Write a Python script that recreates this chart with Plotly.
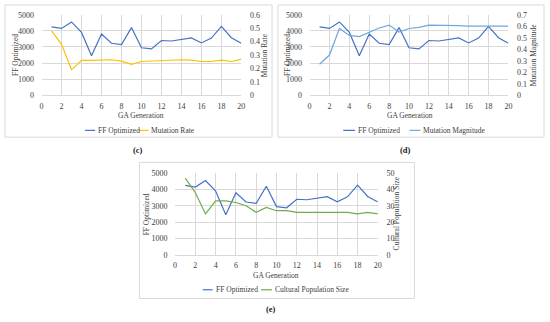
import plotly.graph_objects as go

W, H = 550, 322

generations = list(range(1, 21))
ff_optimized = [4250, 4150, 4550, 3900, 2450, 3800, 3230, 3150, 4200, 2950,
                2880, 3400, 3370, 3470, 3560, 3250, 3550, 4270, 3570, 3230]
mutation_rate = [0.48, 0.38, 0.19, 0.26, 0.26, 0.262, 0.265, 0.255, 0.23, 0.252,
                 0.255, 0.26, 0.26, 0.265, 0.262, 0.252, 0.252, 0.262, 0.252, 0.27]
mutation_magnitude = [0.27, 0.35, 0.58, 0.52, 0.51, 0.55, 0.585, 0.61, 0.55, 0.58,
                      0.59, 0.61, 0.61, 0.61, 0.605, 0.6, 0.6, 0.605, 0.6, 0.6]
cultural_pop = [47, 38, 25, 33, 33, 32, 30, 26, 29, 27,
                27, 26, 26, 26, 26, 26, 26, 25, 26, 25]

x_ticks = list(range(0, 21, 2))

FONT = "Liberation Serif"
TXT = "#404040"
GRID = "#D9D9D9"
C_FF = "#4472C4"
C_MR = "#FFC000"
C_MM = "#6FA8DC"
C_CP = "#70AD47"
FS = 7.5
TFS = 8


def px(x):
    return x / W


def py(y):
    return 1 - y / H


fig = go.Figure()

fig.add_trace(go.Scatter(x=generations, y=ff_optimized, mode="lines", line=dict(color=C_FF, width=1.2),
                         xaxis="x", yaxis="y", showlegend=False))
fig.add_trace(go.Scatter(x=generations, y=mutation_rate, mode="lines", line=dict(color=C_MR, width=1.2),
                         xaxis="x", yaxis="y2", showlegend=False))
fig.add_trace(go.Scatter(x=generations, y=ff_optimized, mode="lines", line=dict(color=C_FF, width=1.2),
                         xaxis="x2", yaxis="y3", showlegend=False))
fig.add_trace(go.Scatter(x=generations, y=mutation_magnitude, mode="lines", line=dict(color=C_MM, width=1.2),
                         xaxis="x2", yaxis="y4", showlegend=False))
fig.add_trace(go.Scatter(x=generations, y=ff_optimized, mode="lines", line=dict(color=C_FF, width=1.2),
                         xaxis="x3", yaxis="y5", showlegend=False))
fig.add_trace(go.Scatter(x=generations, y=cultural_pop, mode="lines", line=dict(color=C_CP, width=1.2),
                         xaxis="x3", yaxis="y6", showlegend=False))

tickfont = dict(family=FONT, size=TFS, color=TXT)


def xax(dom, anchor):
    return dict(domain=dom, anchor=anchor, range=[0, 20], tickvals=x_ticks, showgrid=True,
                gridcolor=GRID, gridwidth=1, zeroline=False, showline=True, linecolor=GRID,
                ticks="outside", ticklen=3, tickcolor="rgba(0,0,0,0)", tickfont=tickfont, fixedrange=True)


def yax_left(dom, anchor, rng, dt):
    return dict(domain=dom, anchor=anchor, range=rng, dtick=dt, showgrid=True, gridcolor=GRID,
                zeroline=False, showline=False, ticks="outside", ticklen=5,
                tickcolor="rgba(0,0,0,0)", tickfont=tickfont, fixedrange=True)


def yax_right(over, anchor, rng, dt):
    return dict(overlaying=over, anchor=anchor, side="right", range=rng, dtick=dt, showgrid=False,
                zeroline=False, showline=False, ticks="outside", ticklen=6,
                tickcolor="rgba(0,0,0,0)", tickfont=tickfont, fixedrange=True)


top_dom = [py(94), py(11)]
bot_dom = [py(258), py(174)]

fig.update_layout(
    width=W, height=H, margin=dict(l=0, r=0, t=0, b=0),
    paper_bgcolor="white", plot_bgcolor="white",
    font=dict(family=FONT, color=TXT),
    xaxis=xax([px(40), px(242)], "y"),
    yaxis=yax_left(top_dom, "x", [0, 5000], 1000),
    yaxis2=yax_right("y", "x", [0, 0.6], 0.1),
    xaxis2=xax([px(311), px(512)], "y3"),
    yaxis3=yax_left(top_dom, "x2", [0, 5000], 1000),
    yaxis4=yax_right("y3", "x2", [0, 0.7], 0.1),
    xaxis3=xax([px(175), px(380)], "y5"),
    yaxis5=yax_left(bot_dom, "x3", [0, 5000], 1000),
    yaxis6=yax_right("y5", "x3", [0, 50], 10),
)

shapes = []
annotations = []

# panel borders
for x0, y0, x1, y1 in [(3, 1, 273, 137), (279, 1, 548, 137), (139, 163, 417, 303)]:
    shapes.append(dict(type="rect", xref="paper", yref="paper", x0=px(x0), x1=px(x1), y0=py(y0), y1=py(y1),
                       line=dict(color=GRID, width=1), fillcolor="rgba(0,0,0,0)", layer="below"))


def text(x, y, s, size=FS, angle=0, xanchor="center", bold=False, color=TXT):
    annotations.append(dict(x=px(x), y=py(y), xref="paper", yref="paper", text=("<b>%s</b>" % s) if bold else s,
                            showarrow=False, textangle=angle, xanchor=xanchor, yanchor="middle",
                            font=dict(family=FONT, size=size, color=color)))


# axis titles
text(13, 52.5, "FF Optimized", angle=-90)
text(265, 52.5, "Mutation Rate", angle=-90)
text(141, 115, "GA Generation")
text(288, 52.5, "FF Optimized", angle=-90)
text(537, 52.5, "Mutation Magnitude", angle=-90)
text(412, 115, "GA Generation")
text(147, 216, "FF Optimized", angle=-90)
text(399, 216, "Cultural Population Size", angle=-90)
text(277, 279, "GA Generation")

# captions
text(137, 150, "(c)", size=8.5, bold=True, color="#222222")
text(408, 150, "(d)", size=8.5, bold=True, color="#222222")
text(272, 314, "(e)", size=8.5, bold=True, color="#222222")


def legend_item(x0, x1, y, color, label):
    shapes.append(dict(type="line", xref="paper", yref="paper", x0=px(x0), x1=px(x1), y0=py(y), y1=py(y),
                       line=dict(color=color, width=1.2)))
    text(x1 + 1, y, label, xanchor="left")


legend_item(84, 94, 130, C_FF, "FF Optimized")
legend_item(138, 148, 130, C_MR, "Mutation Rate")
legend_item(345, 357, 130, C_FF, "FF Optimized")
legend_item(412, 423, 130, C_MM, "Mutation Magnitude")
legend_item(203, 213, 294, C_FF, "FF Optimized")
legend_item(262, 273, 294, C_CP, "Cultural Population Size")

fig.update_layout(shapes=shapes, annotations=annotations)

fig.write_html("out.html", config={"displayModeBar": False, "staticPlot": True},
               post_script="document.body.style.margin='0';document.body.style.overflow='hidden';")
